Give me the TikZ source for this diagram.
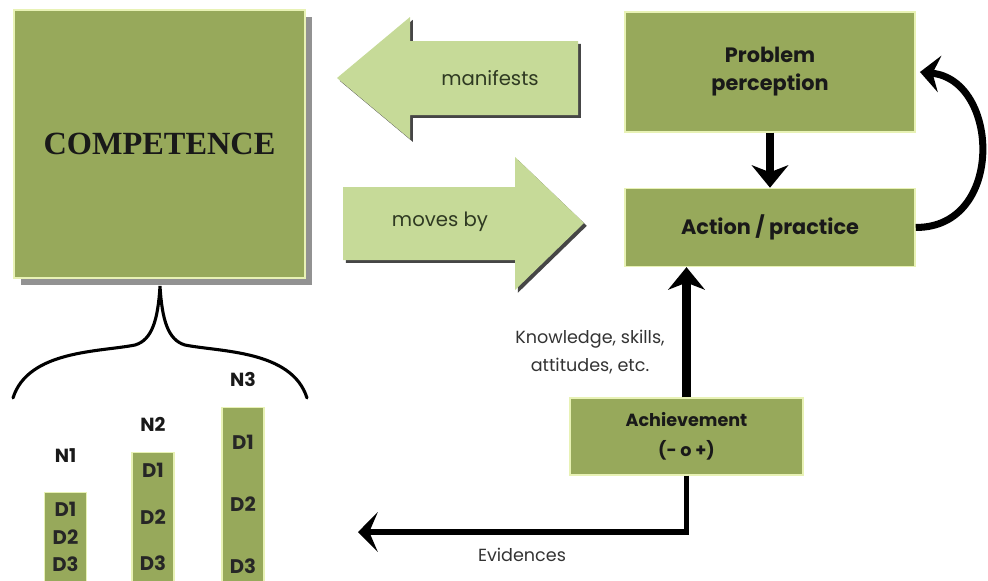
\documentclass[tikz,border=0pt]{standalone}
\usepackage{fontspec}
\setmainfont{Poppins}
\newfontfamily\titlefont{Liberation Serif}
\usepackage{xcolor}
\usetikzlibrary{arrows.meta}
\usetikzlibrary{positioning}
\usetikzlibrary{shadows}
\definecolor{boxgreen}{HTML}{97A95B}
\definecolor{arrowgreen}{HTML}{C6DA98}
\definecolor{glow}{HTML}{E8F2B5}
\definecolor{labelgreen}{HTML}{2F3A22}

\begin{document}
\begin{tikzpicture}[x=0.025cm,y=-0.025cm]
			\tikzstyle{every node}=[inner sep=0pt]
			\tikzstyle{box}=[fill=boxgreen,draw=glow,line width=1pt,align=center,text=black!90,font=\bfseries\fontsize{14.8}{20}\selectfont]
			\tikzstyle{bar}=[fill=boxgreen,draw=glow,line width=0.8pt,anchor=south,minimum width=1.05cm]
			\tikzstyle{dlab}=[align=center,text=black!85]
			\tikzstyle{blockarrow}=[fill=arrowgreen,drop shadow={shadow xshift=2pt,shadow yshift=-2pt,fill=black!85,opacity=0.85}]
			\tikzstyle{plain}=[text=black!80,font=\fontsize{12.5}{20.5}\selectfont,align=center]
			\tikzstyle{nlab}=[text=black!90,font=\bfseries\fontsize{13.5}{16}\selectfont]

			\useasboundingbox (0,0) rectangle (988,580);

			\node (comp) [box,minimum width=7.275cm,minimum height=6.7cm,drop shadow={shadow xshift=5pt,shadow yshift=-5pt,fill=black!85},font=\titlefont\bfseries\fontsize{23}{28}\selectfont] at (159.5,144) {COMPETENCE};
			\node (prob) [box,minimum width=7.25cm,minimum height=3cm] at (770,72) {Problem\\perception};
			\node (act) [box,minimum width=7.25cm,minimum height=1.95cm,below=1.375cm of prob] {Action / practice};
			\node (ach) [box,minimum width=5.825cm,minimum height=1.925cm,font=\bfseries\fontsize{12.5}{21}\selectfont] at (686.5,436.5) {Achievement\\(- o +)};

			\fill[blockarrow] (337,78) -- (410,17) -- (410,41) -- (578,41) -- (578,115) -- (410,115) -- (410,139) -- cycle;
			\node (mani) [text=labelgreen,font=\fontsize{14}{16}\selectfont] at (490,78) {manifests};
			\fill[blockarrow] (584,223) -- (515,157) -- (515,187) -- (343,187) -- (343,260) -- (515,260) -- (515,290) -- cycle;
			\node (moves) [text=labelgreen,font=\fontsize{14}{16}\selectfont] at (440,222) {moves by};

			\node (know) [plain] at (590,352) {Knowledge, skills,\\attitudes, etc.};
			\node (evid) [plain] at (522,555) {Evidences};
			\coordinate (evend) at (358,532);

			\path[-{Stealth[length=16pt,width=26pt,inset=5pt]},line width=5.5pt]
			(prob) edge (act);
			\draw[-{Stealth[length=16pt,width=26pt,inset=5pt]},line width=7pt]
			(ach.north) -- (ach.north |- act.south);
			\draw[-{Stealth[length=14pt,width=28pt,inset=6pt]},line width=4pt]
			(ach.south) |- (evend);
			\draw[-{Stealth[length=14pt,width=26pt,inset=5pt]},line width=5pt]
			(act.east) .. controls (1005,228) and (1000,80) .. ([xshift=3pt]prob.east);

			\draw[line width=2.2pt,line cap=round] (13,398) .. controls (28,350) and (100,352) .. (135,345) .. controls (152,340) and (158,320) .. (160,286)
			.. controls (162,320) and (168,340) .. (185,345) .. controls (220,352) and (292,350) .. (307,398);

			\node (n1) [bar,minimum height=2.225cm] at (65.5,582) {};
			\node (n2) [bar,minimum height=3.225cm] at (153,582) {};
			\node (n3) [bar,minimum height=4.35cm] at (243,582) {};
			\node (n1d) [dlab,font=\bfseries\fontsize{14}{19.5}\selectfont] at (n1) {D1\\D2\\D3};
			\node (n2d) [dlab,font=\bfseries\fontsize{14}{33}\selectfont] at (n2) {D1\\D2\\D3};
			\node (n3d) [dlab,font=\bfseries\fontsize{14}{44}\selectfont,yshift=-0.25cm] at (n3) {D1\\D2\\D3};
			\node (n1lab) [nlab,above=0.72cm of n1] {N1};
			\node (n2lab) [nlab,above=0.5cm of n2] {N2};
			\node (n3lab) [nlab,above=0.5cm of n3] {N3};

		\end{tikzpicture}
\end{document}
